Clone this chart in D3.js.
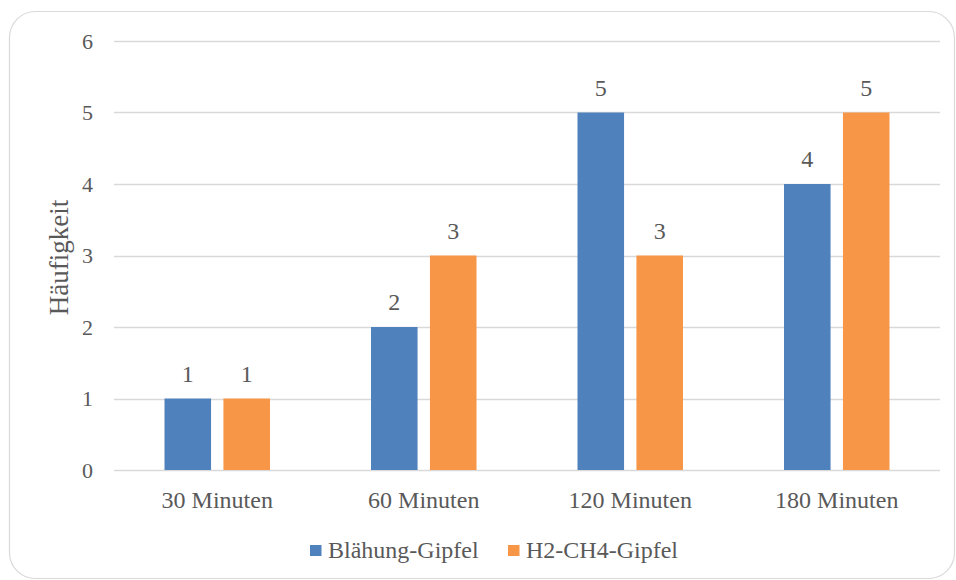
<!DOCTYPE html>
<html>
<head>
<meta charset="utf-8">
<script src="https://cdn.jsdelivr.net/npm/d3@7"></script>
<style>
  html, body { margin: 0; padding: 0; background: #fff; }
  #vis { width: 956px; height: 580px; }
</style>
</head>
<body>
<div id="vis"></div>
<script>
const width = 956;
const height = 580;

// data
const categories = ["30 Minuten", "60 Minuten", "120 Minuten", "180 Minuten"];
const seriesNames = ["Blähung-Gipfel", "H2-CH4-Gipfel"];
const blaehung = [1, 2, 5, 4];
const h2ch4 = [1, 3, 3, 5];
const yTicks = [0, 1, 2, 3, 4, 5, 6];

const colors = ["#4f81bd", "#f79646"];
const seriesValues = [blaehung, h2ch4];

const serif = "Liberation Serif";
const textColor = "#595959";

const margin = { top: 41, right: 16, bottom: 110, left: 114 };

const svg = d3.select("#vis")
    .append("svg")
    .attr("width", width)
    .attr("height", height)
    .attr("font-family", serif)
    .style("font-family", serif);

// rounded frame
svg.append("rect")
    .attr("x", 9.5)
    .attr("y", 11.5)
    .attr("width", 945)
    .attr("height", 567)
    .attr("rx", 26)
    .attr("fill", "#fff")
    .attr("stroke", "#d9d9d9")
    .attr("stroke-width", 1.2);

const x0 = d3.scaleBand()
    .domain(categories)
    .range([margin.left, width - margin.right])
    .padding(0);

const groupPad = 50.5;
const x1 = d3.scaleBand()
    .domain(seriesNames)
    .range([groupPad, x0.bandwidth() - groupPad])
    .paddingInner(0.21);

const y = d3.scaleLinear()
    .domain([0, 6])
    .range([height - margin.bottom, margin.top]);

// gridlines
svg.selectAll(".grid")
    .data(yTicks)
    .enter().append("line")
    .attr("class", "grid")
    .attr("x1", margin.left)
    .attr("x2", width - margin.right)
    .attr("y1", d => Math.round(y(d)) + 0.5)
    .attr("y2", d => Math.round(y(d)) + 0.5)
    .attr("stroke", "#d9d9d9")
    .attr("stroke-width", 1.5);

// bars
const barData = [];
categories.forEach((c, i) => {
    seriesNames.forEach((s, j) => {
        barData.push({ c, s, j, v: seriesValues[j][i] });
    });
});

svg.selectAll(".bar")
    .data(barData)
    .enter().append("rect")
    .attr("class", "bar")
    .attr("x", d => x0(d.c) + x1(d.s))
    .attr("width", x1.bandwidth())
    .attr("y", d => y(d.v))
    .attr("height", d => y(0) - y(d.v))
    .attr("fill", d => colors[d.j]);

// small helper so every label gets the same font settings
function label(sel, size) {
    return sel
        .attr("font-family", serif)
        .style("font-family", serif)
        .attr("font-size", size)
        .style("font-size", size + "px")
        .attr("fill", textColor);
}

// y tick labels
svg.selectAll(".tick-label")
    .data(yTicks)
    .enter().append("text")
    .attr("class", "tick-label")
    .attr("x", 93)
    .attr("y", d => y(d) + 7.5)
    .attr("text-anchor", "end")
    .call(label, 22)
    .text(d => d);

// data labels
svg.selectAll(".value-label")
    .data(barData)
    .enter().append("text")
    .attr("class", "value-label")
    .attr("x", d => x0(d.c) + x1(d.s) + x1.bandwidth() / 2)
    .attr("y", d => y(d.v) - 17)
    .attr("text-anchor", "middle")
    .call(label, 24)
    .text(d => d.v);

// category labels
svg.selectAll(".cat-label")
    .data(categories)
    .enter().append("text")
    .attr("class", "cat-label")
    .attr("x", d => x0(d) + x0.bandwidth() / 2)
    .attr("y", 508)
    .attr("text-anchor", "middle")
    .call(label, 24)
    .text(d => d);

// y axis title
svg.append("text")
    .attr("transform", "translate(68,257.5) rotate(-90)")
    .attr("text-anchor", "middle")
    .call(label, 27)
    .text("Häufigkeit");

// legend
const legendX = [310, 508];
svg.selectAll(".legend-box")
    .data(seriesNames)
    .enter().append("rect")
    .attr("class", "legend-box")
    .attr("x", (d, i) => legendX[i])
    .attr("y", 545)
    .attr("width", 11.5)
    .attr("height", 11)
    .attr("fill", (d, i) => colors[i]);

svg.selectAll(".legend-label")
    .data(seriesNames)
    .enter().append("text")
    .attr("class", "legend-label")
    .attr("x", (d, i) => legendX[i] + 18)
    .attr("y", 557.5)
    .call(label, 24)
    .text(d => d);
</script>
</body>
</html>
